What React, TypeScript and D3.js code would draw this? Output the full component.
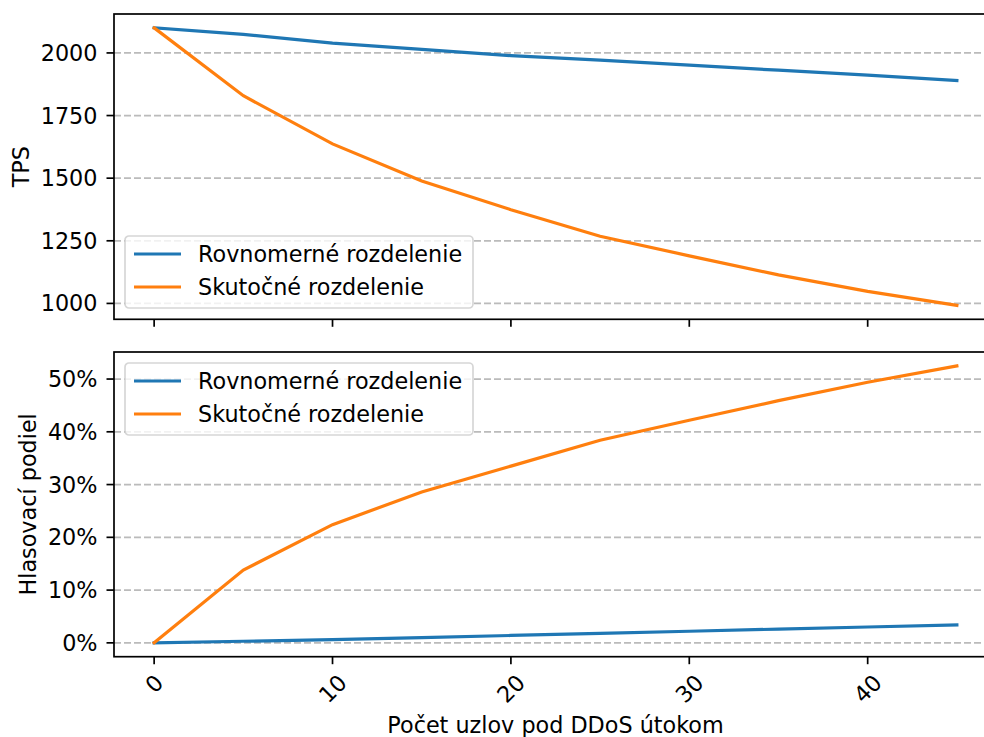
import React from 'react';
import * as d3 from 'd3';

// data
const nodes = [0, 5, 10, 15, 20, 25, 30, 35, 40, 45];
const tpsUniform = [2100, 2074, 2039, 2014, 1989, 1971, 1951, 1931, 1911, 1890];
const tpsReal = [2100, 1829, 1637, 1489, 1374, 1268, 1190, 1114, 1048, 992];
const shareUniform = [0, 0.3, 0.6, 1.0, 1.4, 1.8, 2.2, 2.6, 3.0, 3.4];
const shareReal = [0, 13.8, 22.4, 28.6, 33.5, 38.4, 42.2, 45.9, 49.4, 52.5];

const seriesNames = ['Rovnomerné rozdelenie', 'Skutočné rozdelenie'];
const seriesColors = ['#1f77b4', '#ff7f0e'];
const tpsTicks = [1000, 1250, 1500, 1750, 2000];
const shareTicks = [0, 10, 20, 30, 40, 50];
const xTicks = [0, 10, 20, 30, 40];

const W = 984;
const H = 737;
const FONT = 'DejaVu Sans';
const FS = 22.3;
const left = 114;
const right = 997;

const x = d3.scaleLinear().domain([-2.25, 47.25]).range([left, right]);

const pad = (lo: number, hi: number) => {
  const m = (hi - lo) * 0.05;
  return [lo - m, hi + m];
};

const panels = [
  {
    top: 14, bottom: 319.3,
    series: [tpsUniform, tpsReal],
    domain: pad(Math.min(...tpsReal), Math.max(...tpsReal)),
    ticks: tpsTicks, fmt: (v: number) => String(v),
    label: 'TPS', labelX: 21,
    legendTop: 236,
  },
  {
    top: 352, bottom: 656.7,
    series: [shareUniform, shareReal],
    domain: pad(0, Math.max(...shareReal)),
    ticks: shareTicks, fmt: (v: number) => v + '%',
    label: 'Hlasovací podiel', labelX: 28,
    legendTop: 363,
  },
];

function Panel({ p, showX }: { p: typeof panels[0]; showX: boolean }) {
  const y = d3.scaleLinear().domain(p.domain).range([p.bottom, p.top]);
  const line = d3.line<number>().x((_, i) => x(nodes[i])).y(d => y(d));
  const mid = (p.top + p.bottom) / 2;
  return (
    <g>
      {/* grid */}
      {p.ticks.map(t => (
        <line key={'g' + t} x1={left} x2={right} y1={y(t)} y2={y(t)}
          stroke="#b0b0b0" strokeWidth={1.7} strokeDasharray="7,3" opacity={0.85} />
      ))}
      {p.series.map((s, i) => (
        <path key={i} d={line(s) || ''} fill="none" stroke={seriesColors[i]} strokeWidth={3.2} strokeLinecap="square" />
      ))}
      {/* spines */}
      <rect x={left} y={p.top} width={right - left} height={p.bottom - p.top} fill="none" stroke="#000" strokeWidth={1.7} />
      {/* y ticks */}
      {p.ticks.map(t => (
        <g key={'y' + t}>
          <line x1={left - 7.5} x2={left} y1={y(t)} y2={y(t)} stroke="#000" strokeWidth={1.7} />
          <text x={97.5} y={y(t)} textAnchor="end" dominantBaseline="central" fontSize={FS} fontFamily={FONT}>{p.fmt(t)}</text>
        </g>
      ))}
      {/* x ticks */}
      {xTicks.map(t => {
        const w = String(t).length * 0.636 * FS;
        const bb = (w + 0.73 * FS) * 0.7071;
        return (
          <g key={'x' + t}>
            <line x1={x(t)} x2={x(t)} y1={p.bottom} y2={p.bottom + 7.5} stroke="#000" strokeWidth={1.7} />
            {showX && (
              <text transform={`translate(${x(t)},${p.bottom + 16 + bb / 2}) rotate(-45)`} textAnchor="middle"
                dominantBaseline="central" fontSize={FS} fontFamily={FONT}>{t}</text>
            )}
          </g>
        );
      })}
      <text transform={`translate(${p.labelX},${mid}) rotate(-90)`} textAnchor="middle" dominantBaseline="central"
        fontSize={FS} fontFamily={FONT}>{p.label}</text>
      {/* legend */}
      <g transform={`translate(125,${p.legendTop})`}>
        <rect x={0} y={0} width={348} height={72} rx={4} fill="#fff" fillOpacity={0.8} stroke="#cccccc" strokeOpacity={0.8} strokeWidth={1.7} />
        {seriesNames.map((n, i) => (
          <g key={n} transform={`translate(0,${18 + i * 33})`}>
            <line x1={9} x2={56} y1={0} y2={0} stroke={seriesColors[i]} strokeWidth={3.2} />
            <text x={73} y={0} dominantBaseline="central" fontSize={FS} fontFamily={FONT}>{n}</text>
          </g>
        ))}
      </g>
    </g>
  );
}

export default function App() {
  return (
    <svg width={W} height={H} style={{ position: 'absolute', left: 0, top: 0, background: '#fff' }}>
      <rect width={W} height={H} fill="#fff" />
      <Panel p={panels[0]} showX={false} />
      <Panel p={panels[1]} showX={true} />
      <text x={(left + right) / 2} y={733} textAnchor="middle" fontSize={FS} fontFamily={FONT}>Počet uzlov pod DDoS útokom</text>
    </svg>
  );
}
